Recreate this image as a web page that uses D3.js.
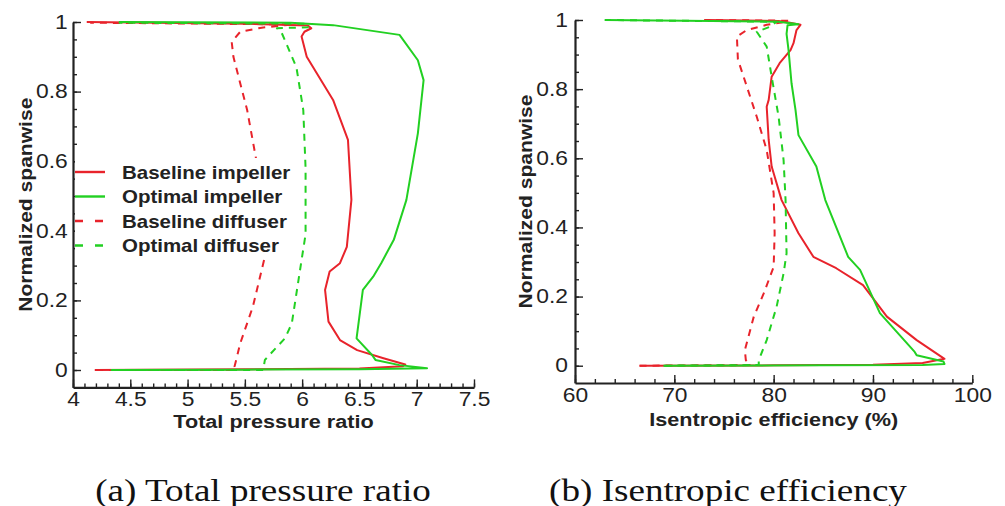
<!DOCTYPE html>
<html>
<head>
<meta charset="utf-8">
<style>
  body { margin: 0; background: #fff; }
  svg { display: block; }
</style>
</head>
<body>
<div id="chart"></div>
<script src="https://cdn.jsdelivr.net/npm/d3@7/dist/d3.min.js"></script>
<script>
// ---- data: [value, normalized span] ----
var prBaselineImpeller = [[4.19,0.0],[5.5,0.002],[6.5,0.004],[6.88,0.011],[6.90,0.016],[6.71,0.034],[6.48,0.057],[6.33,0.086],[6.23,0.139],[6.20,0.23],[6.24,0.283],[6.33,0.307],[6.39,0.354],[6.43,0.489],[6.40,0.661],[6.27,0.776],[6.04,0.90],[5.995,0.958],[6.02,0.972],[6.08,0.982],[6.05,0.99],[5.5,0.995],[4.12,1.0]];
var prOptimalImpeller = [[4.33,0.0],[5.5,0.001],[6.5,0.002],[7.09,0.005],[6.85,0.014],[6.64,0.029],[6.61,0.043],[6.475,0.091],[6.53,0.23],[6.62,0.268],[6.69,0.307],[6.80,0.374],[6.91,0.489],[7.01,0.68],[7.06,0.833],[7.01,0.89],[6.85,0.963],[6.27,0.991],[5.9,0.998],[4.4,1.0]];
var prBaselineDiffuser = [[4.2,0.0],[5.42,0.0],[5.41,0.01],[5.46,0.077],[5.57,0.182],[5.675,0.326],[5.60,0.603],[5.52,0.747],[5.40,0.90],[5.385,0.943],[5.46,0.972],[5.62,0.982],[5.66,0.984],[5.92,0.993],[4.15,0.998]];
var prOptimalDiffuser = [[4.35,0.0],[5.66,0.0],[5.675,0.029],[5.85,0.091],[5.91,0.134],[5.995,0.316],[6.03,0.39],[6.03,0.58],[6.01,0.747],[5.95,0.87],[5.82,0.97],[5.78,0.982],[6.05,0.985],[6.05,0.995],[4.4,0.998]];

var efBaselineImpeller = [[66.5,0.0],[80,0.001],[90,0.003],[95,0.008],[97.2,0.02],[94.4,0.074],[91.4,0.142],[89.0,0.233],[86.3,0.282],[84.0,0.315],[82.5,0.383],[80.8,0.479],[79.8,0.576],[79.5,0.653],[79.3,0.749],[79.5,0.769],[79.8,0.836],[80.6,0.875],[81.7,0.913],[82.0,0.933],[82.3,0.971],[82.7,0.986],[81.5,0.993],[80.5,0.997],[73.3,1.0]];
var efOptimalImpeller = [[68.9,0.0],[85,0.001],[95,0.002],[97.2,0.005],[97.1,0.012],[94.4,0.03],[94.2,0.04],[90.7,0.152],[88.7,0.277],[87.5,0.315],[85.2,0.479],[84.3,0.576],[82.5,0.667],[82.2,0.74],[81.8,0.817],[81.5,0.913],[81.3,0.96],[81.4,0.985],[82.5,0.988],[80.5,0.995],[63.0,1.0]];
var efBaselineDiffuser = [[66.5,0.0],[77.7,0.002],[77.2,0.016],[77.1,0.045],[78.0,0.142],[79.0,0.209],[80.0,0.286],[80.1,0.383],[80.0,0.499],[79.3,0.624],[78.3,0.72],[76.4,0.886],[76.3,0.952],[77.3,0.971],[79.3,0.986],[80.8,0.993],[81.5,0.998],[73,1.0]];
var efOptimalDiffuser = [[69,0.0],[78.5,0.002],[78.5,0.016],[79.3,0.074],[80.3,0.171],[81.0,0.267],[81.3,0.325],[81.2,0.479],[81.0,0.595],[80.5,0.72],[79.8,0.836],[79.3,0.923],[78.3,0.966],[79.6,0.98],[80.3,0.995],[63,1.0]];

var legendLabels = ["Baseline impeller", "Optimal impeller", "Baseline diffuser", "Optimal diffuser"];
var prTicks = [4, 4.5, 5, 5.5, 6, 6.5, 7, 7.5];
var efTicks = [60, 70, 80, 90, 100];
var spanTicks = [0, 0.2, 0.4, 0.6, 0.8, 1];

var RED = "#e8232b", GREEN = "#22d022";
var SX = 1.17; // glyphs in the figure are wider than Arial
var SANS = "'Liberation Sans', Arial, sans-serif";

var svg = d3.select("#chart").append("svg")
  .attr("width", 1005)
  .attr("height", 506);

function drawPanel(p) {
  var x = d3.scaleLinear().domain(p.xDomain).range([p.left, p.right]);
  var y = d3.scaleLinear().domain([-0.05, 1]).range([p.bottom, p.top]);
  var g = svg.append("g");

  // minor ticks
  g.append("g")
    .attr("transform", "translate(0," + p.bottom + ")")
    .call(d3.axisBottom(x).tickValues(d3.range(p.xDomain[0], p.xDomain[1] + 1e-9, p.xMinor)).tickSize(-4).tickSizeOuter(0).tickFormat(""))
    .call(a => a.select(".domain").remove());
  g.append("g")
    .attr("transform", "translate(" + p.left + ",0)")
    .call(d3.axisLeft(y).tickValues(d3.range(0, 1.0001, 0.05)).tickSize(-4).tickSizeOuter(0).tickFormat(""))
    .call(a => a.select(".domain").remove());

  // major
  var xa = g.append("g")
    .attr("transform", "translate(0," + p.bottom + ")")
    .call(d3.axisBottom(x).tickValues(p.xTicks).tickSize(-8).tickSizeOuter(0).tickPadding(p.xPad).tickFormat(d3.format("")));
  var ya = g.append("g")
    .attr("transform", "translate(" + p.left + ",0)")
    .call(d3.axisLeft(y).tickValues(spanTicks).tickSize(-8).tickSizeOuter(0).tickPadding(p.yPad).tickFormat(d3.format("")));

  g.selectAll(".tick line").attr("stroke", "#222").attr("stroke-width", 1.4);
  g.selectAll(".domain").attr("stroke", "#222").attr("stroke-width", 2.2);
  [xa, ya].forEach(a => a.selectAll("text")
    .attr("fill", "#222")
    .style("font-family", SANS)
    .style("font-size", "19.5px")
    .attr("transform", "scale(" + SX + ",1)"));

  // axis titles
  g.append("text")
    .attr("transform", "translate(" + (p.left + p.right) / 2 + "," + p.xLabelY + ") scale(" + SX + ",1)")
    .attr("text-anchor", "middle")
    .style("font-family", SANS).style("font-weight", "bold").style("font-size", "18.5px")
    .attr("fill", "#222")
    .text(p.xLabel);
  g.append("text")
    .attr("transform", "translate(" + p.yLabelX + "," + (p.top + p.bottom) / 2 + ") rotate(-90) scale(" + SX + ",1)")
    .attr("text-anchor", "middle")
    .style("font-family", SANS).style("font-weight", "bold").style("font-size", "18px")
    .attr("fill", "#222")
    .text("Normalized spanwise");

  var line = d3.line().x(d => x(d[0])).y(d => y(d[1]));
  p.series.forEach(s => {
    g.append("path")
      .attr("d", line(s.data))
      .attr("fill", "none")
      .attr("stroke", s.color)
      .attr("stroke-width", 2)
      .attr("stroke-linejoin", "round")
      .attr("stroke-dasharray", s.dashed ? "7,6" : null);
  });

  // caption
  svg.append("text")
    .attr("transform", "translate(" + p.captionX + ",501) scale(1.16,1)")
    .attr("text-anchor", "middle")
    .style("font-family", "'Liberation Serif', 'Times New Roman', serif")
    .style("font-size", "32px")
    .attr("fill", "#111")
    .text(p.caption);
  return g;
}

var left = drawPanel({
  xDomain: [4, 7.5], xTicks: prTicks, xMinor: 0.1,
  left: 73, right: 474, top: 22, bottom: 387.4,
  xPad: 5, yPad: 4.5, yLabelX: 31.5, xLabelY: 427.5,
  xLabel: "Total pressure ratio", caption: "(a) Total pressure ratio", captionX: 263,
  series: [
    {data: prBaselineDiffuser, color: RED, dashed: true},
    {data: prBaselineImpeller, color: RED},
    {data: prOptimalDiffuser, color: GREEN, dashed: true},
    {data: prOptimalImpeller, color: GREEN}
  ]
});

drawPanel({
  xDomain: [60, 100], xTicks: efTicks, xMinor: 2,
  left: 575, right: 972.3, top: 20, bottom: 383,
  xPad: 5, yPad: 6, yLabelX: 532, xLabelY: 425.5,
  xLabel: "Isentropic efficiency (%)", caption: "(b) Isentropic efficiency", captionX: 728,
  series: [
    {data: efBaselineDiffuser, color: RED, dashed: true},
    {data: efBaselineImpeller, color: RED},
    {data: efOptimalDiffuser, color: GREEN, dashed: true},
    {data: efOptimalImpeller, color: GREEN}
  ]
});

// legend (left panel), white box hides lines behind it
var legendColors = [RED, GREEN, RED, GREEN];
var legendDashed = [false, false, true, true];
var lg = left.append("g").attr("transform", "translate(75,158)");
lg.append("rect").attr("width", 215).attr("height", 99).attr("fill", "#fff");
var rows = lg.selectAll("g.row").data(legendLabels).enter().append("g")
  .attr("transform", (d, i) => "translate(0," + (14 + i * 24.5) + ")");
rows.append("line")
  .attr("x1", 0).attr("x2", 30)
  .attr("stroke", (d, i) => legendColors[i])
  .attr("stroke-width", 2.4)
  .attr("stroke-dasharray", (d, i) => legendDashed[i] ? "8,12" : null);
rows.append("text")
  .attr("transform", "translate(47,6.5) scale(" + SX + ",1)")
  .style("font-family", SANS).style("font-weight", "bold").style("font-size", "17.5px")
  .attr("fill", "#222")
  .text(d => d);
</script>
</body>
</html>
